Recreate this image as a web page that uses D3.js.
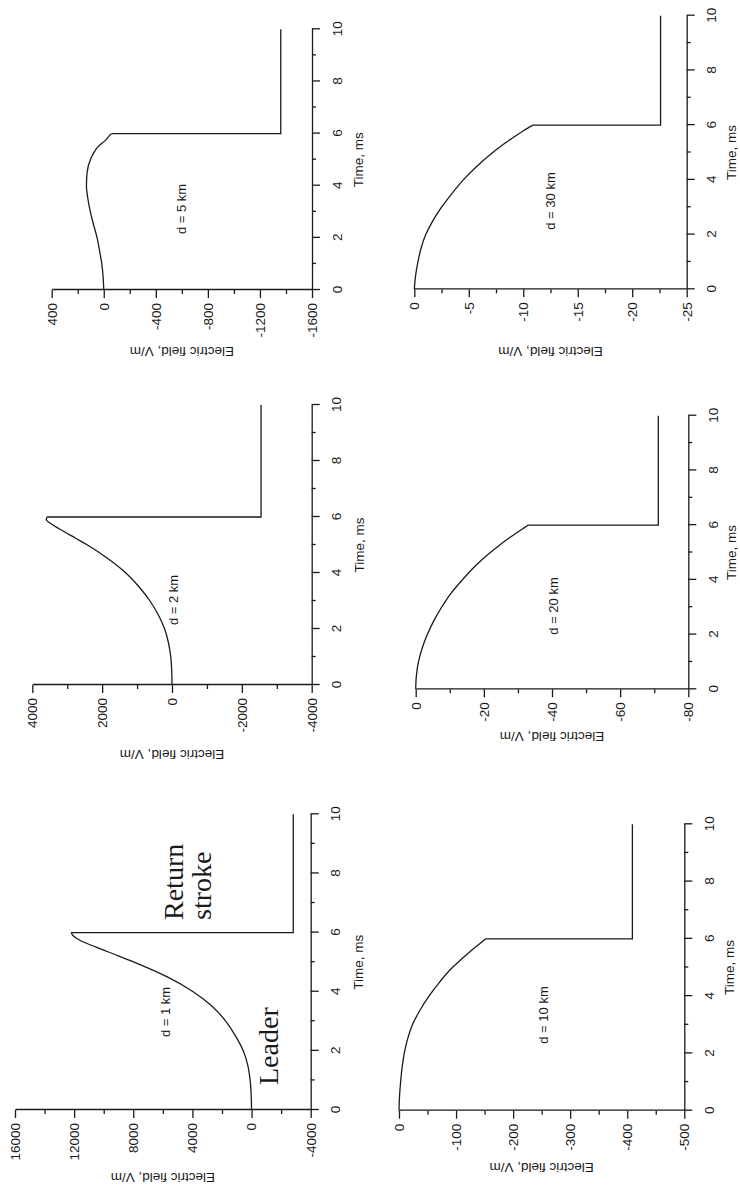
<!DOCTYPE html>
<html>
<head>
<meta charset="utf-8">
<script src="https://cdn.jsdelivr.net/npm/d3@7"></script>
<style>
  body { margin: 0; background: #fff; }
  text { font-family: "Liberation Sans", Arial, Helvetica, sans-serif; }
</style>
</head>
<body>
<svg id="chart"></svg>
<script>
// distances of the six panels
const distances = ["d = 1 km", "d = 2 km", "d = 5 km", "d = 10 km", "d = 20 km", "d = 30 km"];

// leader phase, time in ms
const leaderTime = [0, 0.5, 1, 1.5, 2, 2.5, 3, 3.5, 4, 4.5, 5, 5.25, 5.5, 5.75, 5.9, 6];
const field1km = [0, 25, 95, 250, 560, 1080, 1740, 2650, 3950, 5700, 7950, 9200, 10480, 11650, 12080, 12200];
const field2km = [0, 8, 35, 100, 210, 390, 630, 940, 1320, 1820, 2420, 2770, 3120, 3450, 3600, 3580];
const field5km = [0, 5, 15, 32, 51, 78, 103, 122, 133, 128, 103, 78, 44, -15, -40, -59];
const field10km = [0, -0.9, -2.8, -5.4, -9.2, -15, -23.5, -36.5, -52.5, -71.5, -93.5, -107.3, -121.3, -136.3, -145.6, -152];
const field20km = [0, -0.2, -0.8, -1.9, -3.4, -5.3, -7.6, -10.3, -13.7, -17.4, -21.9, -24.4, -27.1, -30, -31.8, -33];
const field30km = [0, -0.12, -0.33, -0.62, -1.05, -1.7, -2.5, -3.45, -4.5, -5.75, -7.2, -8, -8.9, -9.85, -10.45, -10.9];

// field left after the return stroke (t = 6 .. 10 ms)
const strokeTime = [6, 6, 10];
const strokeField = [-2820, -2550, -1360, -409, -71.2, -22.6];

// ticks
const timeTicks = [0, 2, 4, 6, 8, 10];
const timeMinorTicks = [1, 3, 5, 7, 9];
const fieldTicks1km = [-4000, 0, 4000, 8000, 12000, 16000];
const fieldTicks2km = [-4000, -2000, 0, 2000, 4000];
const fieldTicks5km = [-1600, -1200, -800, -400, 0, 400];
const fieldTicks10km = [-500, -400, -300, -200, -100, 0];
const fieldTicks20km = [-80, -60, -40, -20, 0];
const fieldTicks30km = [-25, -20, -15, -10, -5, 0];

const fields = [field1km, field2km, field5km, field10km, field20km, field30km];
const fieldTicks = [fieldTicks1km, fieldTicks2km, fieldTicks5km, fieldTicks10km, fieldTicks20km, fieldTicks30km];

const width = 740;
const height = 1190;

// panel boxes in the landscape page (before the quarter turn)
const layout = [
  { x0: 80, x1: 375.7, top: 15, bottom: 310.7, titleGap: 63, timeGap: 52, lx: 178, ly: 170 },
  { x0: 505, x1: 785, top: 32.3, bottom: 311.7, titleGap: 65, timeGap: 52, lx: 590, ly: 178 },
  { x0: 900, x1: 1160.7, top: 51.7, bottom: 312, titleGap: 57, timeGap: 51, lx: 981, ly: 186 },
  { x0: 79.3, x1: 365.7, top: 399, bottom: 684.3, titleGap: 52, timeGap: 50, lx: 175, ly: 548 },
  { x0: 500.7, x1: 774.3, top: 415.7, bottom: 688.3, titleGap: 43, timeGap: 48, lx: 584, ly: 558 },
  { x0: 900.7, x1: 1174.3, top: 414.3, bottom: 686.7, titleGap: 58, timeGap: 49, lx: 989, ly: 555 },
];

const ink = "#1a1a1a";
const fontSize = "13.5px";

const svg = d3.select("#chart").attr("width", width).attr("height", height);
svg.append("rect").attr("width", width).attr("height", height).attr("fill", "#fff");

// the whole figure is drawn landscape and turned 90deg counter-clockwise
const page = svg.append("g").attr("transform", `translate(0,${height}) rotate(-90)`);

const styleAxis = (g) => {
  g.attr("font-family", null).attr("font-size", null);
  g.selectAll("path, line").attr("stroke", ink).attr("stroke-width", 1.3);
  g.selectAll("text").attr("fill", ink).style("font-size", fontSize);
};

layout.forEach((p, i) => {
  const g = page.append("g");
  const ticks = fieldTicks[i];
  const x = d3.scaleLinear().domain([0, 10]).range([p.x0, p.x1]);
  const y = d3.scaleLinear().domain(d3.extent(ticks)).range([p.bottom, p.top]);
  const minor = ticks.slice(1).map((t, k) => (t + ticks[k]) / 2);

  g.append("g")
    .attr("transform", `translate(0,${p.bottom})`)
    .call(d3.axisBottom(x).tickValues(timeTicks).tickSize(8).tickSizeOuter(0).tickPadding(12))
    .call(styleAxis);
  g.append("g")
    .attr("transform", `translate(0,${p.bottom})`)
    .call(d3.axisBottom(x).tickValues(timeMinorTicks).tickSize(4).tickFormat(""))
    .call((a) => a.select(".domain").remove())
    .call(styleAxis);

  g.append("g")
    .attr("transform", `translate(${p.x0},0)`)
    .call(d3.axisLeft(y).tickValues(ticks).tickSize(8).tickSizeOuter(0).tickPadding(5).tickFormat((d) => String(d)))
    .call(styleAxis);
  g.append("g")
    .attr("transform", `translate(${p.x0},0)`)
    .call(d3.axisLeft(y).tickValues(minor).tickSize(4).tickFormat(""))
    .call((a) => a.select(".domain").remove())
    .call(styleAxis);

  g.append("text")
    .attr("x", (p.x0 + p.x1) / 2)
    .attr("y", p.bottom + p.timeGap)
    .attr("text-anchor", "middle")
    .attr("fill", ink)
    .style("font-size", fontSize)
    .text("Time, ms");

  g.append("text")
    .attr("transform", `translate(${p.x0 - p.titleGap},${(p.top + p.bottom) / 2}) rotate(-90)`)
    .attr("text-anchor", "middle")
    .attr("fill", ink)
    .style("font-size", fontSize)
    .text("Electric field, V/m");

  g.append("text")
    .attr("x", p.lx)
    .attr("y", p.ly)
    .attr("text-anchor", "middle")
    .attr("fill", ink)
    .style("font-size", "13px")
    .text(distances[i]);

  const leader = leaderTime.map((t, k) => [t, fields[i][k]]);
  const stroke = strokeTime.map((t, k) => [t, k === 0 ? fields[i][fields[i].length - 1] : strokeField[i]]);

  g.append("path")
    .attr("d", d3.line().x((d) => x(d[0])).y((d) => y(d[1])).curve(d3.curveMonotoneX)(leader))
    .attr("fill", "none")
    .attr("stroke", ink)
    .attr("stroke-width", 1.3);
  g.append("path")
    .attr("d", d3.line().x((d) => x(d[0])).y((d) => y(d[1]))(stroke))
    .attr("fill", "none")
    .attr("stroke", ink)
    .attr("stroke-width", 1.3);
});

// phase names on the 1 km panel
const serif = (txt, xx, yy) =>
  page.append("text")
    .attr("x", xx)
    .attr("y", yy)
    .attr("fill", ink)
    .style("font-family", '"Liberation Serif", "Times New Roman", serif')
    .style("font-size", "28px")
    .text(txt);
serif("Return", 270, 183);
serif("stroke", 270, 211);
serif("Leader", 105, 278);
</script>
</body>
</html>
